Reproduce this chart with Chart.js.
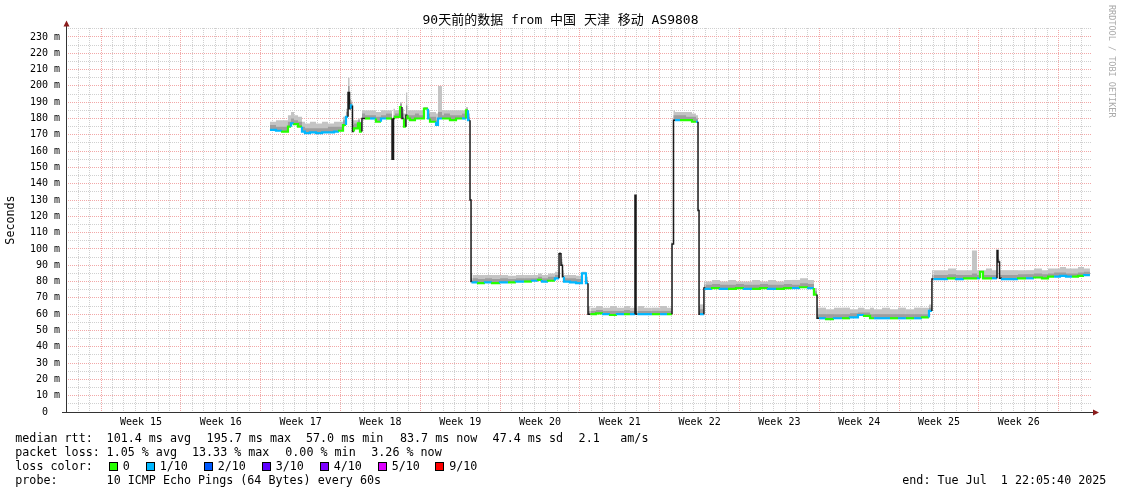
<!DOCTYPE html>
<html><head><meta charset="utf-8">
<script src="https://cdn.jsdelivr.net/npm/chart.js@4/dist/chart.umd.min.js"></script>
<style>html,body{margin:0;padding:0;background:#fff}canvas{display:block}</style>
</head><body>
<canvas id="c" width="1121" height="494"></canvas>
<script>
// ---- texts ----
const titleText = '90天前的数据 from 中国 天津 移动 AS9808';
const yAxisTitle = 'Seconds';
const creditText = 'RRDTOOL / TOBI OETIKER';
const weekLabels = ['Week 15','Week 16','Week 17','Week 18','Week 19','Week 20','Week 21','Week 22','Week 23','Week 24','Week 25','Week 26'];
const yLabelValues = [0,10,20,30,40,50,60,70,80,90,100,110,120,130,140,150,160,170,180,190,200,210,220,230];
const rttStats = ['median rtt:','101.4 ms avg','195.7 ms max','57.0 ms min','83.7 ms now','47.4 ms sd','2.1','am/s'];
const lossStats = ['packet loss:','1.05 % avg','13.33 % max','0.00 % min','3.26 % now'];
const lossLegendLabels = ['0','1/10','2/10','3/10','4/10','5/10','9/10'];
const lossLegendColors = ['#26ff00','#00b8ff','#0059ff','#5e00ff','#7e00ff','#dd00ff','#ff0000'];
const probeText = ['probe:','10 ICMP Echo Pings (64 Bytes) every 60s'];
const endText = 'end: Tue Jul  1 22:05:40 2025';

// ---- time range (90 days ending Tue Jul 1 22:05:40 2025) ----
const startUTC = Date.UTC(2025,3,2,22,5,40);
const endUTC = Date.UTC(2025,6,1,22,5,40);

// ---- series: x = days since start ----
const days = [
 17.89,18.42,18.95,19.47,19.74,20.0,20.35,20.7,20.96,21.4,21.93,22.46,22.98,23.51,23.95,24.3,24.56,24.74,24.87,25.0,
 25.13,25.26,25.61,25.79,25.96,26.23,26.67,27.19,27.63,28.07,28.6,28.73,28.86,29.3,29.47,29.65,29.82,29.96,30.18,30.61,
 30.96,31.4,31.75,31.93,32.46,32.63,32.98,33.16,33.68,34.21,34.74,35.09,35.26,35.44,35.53,35.66,
 36.14,36.75,37.37,38.07,38.77,39.47,40.18,40.88,41.4,41.75,42.28,42.89,43.25,43.42,43.55,43.68,44.21,44.74,45.26,45.61,45.79,46.0,
 46.49,47.11,47.72,48.33,48.95,49.47,49.91,50.0,50.13,50.7,51.4,52.11,52.72,53.16,53.29,53.42,
 53.86,54.39,54.91,55.26,55.44,55.53,55.61,55.96,56.1,
 56.67,57.37,58.07,58.77,59.47,60.18,60.88,61.58,62.28,62.98,63.68,64.39,65.09,65.61,65.88,66.05,
 66.67,67.37,68.07,68.77,69.47,70.0,70.53,70.88,71.58,72.28,72.98,73.68,74.39,75.09,75.7,75.96,76.1,
 76.67,77.37,78.07,78.77,79.47,79.91,80.18,80.44,80.7,81.23,81.67,81.75,81.89,82.1,82.81,83.51,84.21,84.91,85.61,86.14,
 86.67,87.19,87.72,88.25,88.77,89.3,89.82
];
const median = [
 173,173,172.5,172,175,177,176.5,175,172,171,171.5,171,171.5,171.5,172,172.5,176,181,196,186,
 188,172,174,177,172,180,180,180,178,180,180,155,180,181,187,180,175,182,180,179,
 180,180,186,180,178,176,180,180,180,179,180,180,185,179,130,80,
 79.5,79,79.5,79,79.5,79.5,80,80,80.5,81,80,80.5,82,97,90,83,80,79.5,79,85,79,60,
 60,60.5,60,59.5,60,60,60,133,60,60,60,60,60,60,103,179,
 179,179,179,178,178,123.5,60,60,76,
 75.5,76,75.5,75.5,76,75.5,75.5,76,75.5,75.5,76,76,76.5,76,72,57.5,
 57.5,57,57.5,57.5,58,59.5,59,57.5,57.5,57.5,57.5,57.5,57.5,57.5,58,62,81.5,
 81.5,81.5,82,81.5,82,82,82,86,82,82,82,99,92,82,81.5,81.5,82,82,82.5,82,
 83,83,83.5,83,83,83.5,84
];
const smokeMid = [
 175,176,175,175,178,180,179,178,175,174,174,174,174,175,175,175,179,184,200,190,
 190,176,177,179,175,183,182,182,181,182,183,157,182,183,189,183,179,188,182,182,
 183,182,186,183,181,179,184,182,183,182,182,183,186,181,130,82,
 82,81.5,82,81.5,82,81.5,82,82,82,83,82,83,84,98,92,85,82,82,81.5,85,81,62,
 62,62.5,62,62,62,62.5,62,133,62,62,62,62,62,62,103,182,
 182,182,181,181,180,124,62,63,78,
 78,78.5,78,78,78.5,78,78,78.5,78,78,78.5,78,79,78.5,74,60,
 60,60,60,60,60.5,61,61,60,60,60,60,60,60,60,60,64,84,
 84,84,84.5,84,84,85,84,86,84,84,84,99,93,84,84,84,84.5,84.5,85,84.5,
 85,85.5,85.5,85,85,85.5,86
];
const smokeHi = [
 179,178,179,179,182,184,182,181,178,177,178,177,178,177,178,178,181,186,205,192,
 191,179,179,180,178,185,185,185,184,185,185,160,186,185,190,186,183,196,185,185,
 185,185,187,185,184,183,200,185,185,185,185,185,187,183,130,85,
 84,84,84,84,84,83.5,84,84,84,85,84,85,86,98,94,87,84,84,83.5,86,83,65,
 64,65,64,65,64,65,64,133,64,65,64,64,65,64,103,185,
 184,184,184,183,182,125,65,66,80,
 80,81,80,81,80,80,81,80,81,80,81,81,82,81,76,64,
 64,63,64,64,63,64,63,64,63,64,63,64,63,64,64,66,87,
 87,87,88,87,87,99,87,87,87,88,87,99,94,87,87,87,87,87,88,87,
 88,88,89,88,88,89,88
];
const lossTenths = [
 1,1,0,0,1,0,0,1,1,1,1,1,1,1,0,0,1,1,1,1,
 1,0,0,0,0,0,1,0,1,0,0,0,0,0,1,0,1,0,0,0,
 0,0,1,0,1,1,0,0,0,0,1,0,1,0,1,1,
 0,1,0,1,0,1,0,1,0,1,0,1,1,1,1,1,1,1,1,1,1,0,
 0,1,0,1,0,1,1,1,1,1,0,1,0,0,0,1,
 0,0,0,1,0,1,1,1,1,
 0,1,0,0,1,0,0,1,0,0,1,0,1,0,0,1,
 0,1,0,1,1,0,0,1,1,0,1,0,1,0,1,1,1,
 1,0,1,0,0,1,0,0,0,1,1,1,1,1,1,0,1,0,0,0,
 1,1,1,0,0,1,1
];

// ---- derived grid positions from calendar ----
const DAY = 864e5;
const dayLines = [], weekLines = [];
for (let t = Date.UTC(2025,3,3); t < endUTC; t += DAY) {
  const off = (t - startUTC) / DAY;
  dayLines.push(off);
  if (new Date(t).getUTCDay() === 0) weekLines.push(off);
}
const weekCenters = weekLabels.map((_, i) => weekLines[i] + 3.5);
const key = v => v.toFixed(4);
const weekLineSet = new Set(weekLines.map(key));
const centerLabel = new Map(weekCenters.map((v, i) => [key(v), weekLabels[i]]));
const xTickValues = dayLines.concat(weekCenters).sort((a, b) => a - b);

const MONO = '"DejaVu Sans Mono", "Noto Sans CJK SC", monospace';
const pts = arr => days.map((d, i) => ({x: d, y: arr[i]}));

const extras = {
  id: 'extras',
  afterDraw(chart) {
    const ctx = chart.ctx, a = chart.chartArea;
    ctx.save();
    // title
    ctx.fillStyle = '#000';
    ctx.font = '13px ' + MONO;
    ctx.textAlign = 'center'; ctx.textBaseline = 'middle';
    ctx.fillText(titleText, 560.5, 21);
    // axes
    ctx.strokeStyle = '#333'; ctx.lineWidth = 1;
    const ax = Math.round(a.left) + 0.5, ay = Math.round(a.bottom) + 0.5;
    ctx.beginPath();
    ctx.moveTo(ax, ay); ctx.lineTo(ax, 26);
    ctx.moveTo(ax - 4.5, ay); ctx.lineTo(a.right + 1, ay);
    ctx.stroke();
    ctx.fillStyle = '#8b1c1c';
    ctx.beginPath(); ctx.moveTo(ax - 3, 26.5); ctx.lineTo(ax + 3, 26.5); ctx.lineTo(ax, 20.5); ctx.closePath(); ctx.fill();
    ctx.beginPath(); ctx.moveTo(a.right + 1, ay - 3); ctx.lineTo(a.right + 1, ay + 3); ctx.lineTo(a.right + 7, ay); ctx.closePath(); ctx.fill();
    // credit
    ctx.fillStyle = '#aaaaaa';
    ctx.font = '8.5px ' + MONO;
    ctx.translate(1111.5, 5); ctx.rotate(Math.PI / 2);
    ctx.textAlign = 'left'; ctx.textBaseline = 'middle';
    ctx.fillText(creditText, 0, 0);
    ctx.restore();
    // legend block
    ctx.save();
    ctx.fillStyle = '#000';
    ctx.font = '11.7px ' + MONO;
    ctx.textAlign = 'left'; ctx.textBaseline = 'middle';
    const rttX = [15.3, 106.6, 206.6, 306, 400, 492.6, 578.6, 620.3];
    rttStats.forEach((s, i) => ctx.fillText(s, rttX[i], 438.5));
    const lossX = [15.3, 106.6, 192, 285.3, 371.3];
    lossStats.forEach((s, i) => ctx.fillText(s, lossX[i], 452.5));
    ctx.fillText('loss color:', 15.3, 466.5);
    const boxX = [108.5, 145.5, 203.5, 261.5, 319.5, 377.5, 435];
    lossLegendLabels.forEach((s, i) => {
      const bx = Math.round(boxX[i]) + 0.5;
      ctx.fillStyle = lossLegendColors[i];
      ctx.fillRect(bx, 462.5, 8, 8);
      ctx.strokeStyle = '#000'; ctx.lineWidth = 1;
      ctx.strokeRect(bx, 462.5, 8, 8);
      ctx.fillStyle = '#000';
      ctx.fillText(s, boxX[i] + 14.2, 466.5);
    });
    ctx.fillText(probeText[0], 15.3, 480.5);
    ctx.fillText(probeText[1], 106.6, 480.5);
    ctx.fillText(endText, 902.3, 480.5);
    ctx.restore();
  }
};

new Chart(document.getElementById('c'), {
  type: 'line',
  data: {
    datasets: [
      {
        label: 'median', data: pts(median), stepped: 'after', pointRadius: 0,
        borderWidth: 2.2, borderColor: lossLegendColors[0], fill: false,
        segment: {
          borderColor: c => Math.abs(c.p1.parsed.y - c.p0.parsed.y) > 6 ? '#1a1a1a' : lossLegendColors[lossTenths[c.p0DataIndex]],
          borderWidth: c => Math.abs(c.p1.parsed.y - c.p0.parsed.y) > 6 ? 1.5 : 2.2
        }
      },
      {
        label: 'smokeMid', data: pts(smokeMid), stepped: 'after', pointRadius: 0,
        borderWidth: 0, borderColor: 'rgba(0,0,0,0)', backgroundColor: '#9e9e9e', fill: '-1'
      },
      {
        label: 'smokeHi', data: pts(smokeHi), stepped: 'after', pointRadius: 0,
        borderWidth: 0, borderColor: 'rgba(0,0,0,0)', backgroundColor: '#c4c4c4', fill: '-2'
      }
    ]
  },
  options: {
    responsive: false, animation: false, devicePixelRatio: 1,
    layout: {padding: {top: 28, right: 29, bottom: 62, left: 0}},
    plugins: {legend: {display: false}, tooltip: {enabled: false}, title: {display: false}},
    scales: {
      x: {
        type: 'linear', min: 0, max: 90, bounds: 'data',
        afterBuildTicks: s => { s.ticks = xTickValues.map(v => ({value: v})); },
        afterFit: s => { s.height = 20; },
        ticks: {
          autoSkip: false, maxRotation: 0, minRotation: 0, padding: 4, color: '#000',
          font: {family: MONO, size: 10},
          callback: v => centerLabel.get(key(v)) || ''
        },
        grid: {
          drawTicks: false, lineWidth: 1,
          color: c => {
            const v = c.tick ? c.tick.value : 0;
            if (centerLabel.has(key(v))) return 'rgba(0,0,0,0)';
            return weekLineSet.has(key(v)) ? '#f2a8a8' : '#d0d0d0';
          }
        },
        border: {display: false, dash: [1, 1]}
      },
      y: {
        type: 'linear', min: 0, max: 235.5, bounds: 'data',
        afterBuildTicks: s => { const t = []; for (let v = 0; v <= 235; v += 5) t.push({value: v}); s.ticks = t; },
        afterFit: s => { s.width = 66; },
        ticks: {
          autoSkip: false, padding: 6, color: '#000',
          font: {family: MONO, size: 10},
          callback: v => yLabelValues.includes(v) ? (v === 0 ? '0  ' : v + ' m') : ''
        },
        grid: {
          drawTicks: false, lineWidth: 1,
          color: c => (c.tick && c.tick.value % 10 === 0) ? '#f2a8a8' : '#d0d0d0'
        },
        border: {display: false, dash: [1, 1]},
        title: {display: true, text: yAxisTitle, color: '#000', font: {family: MONO, size: 11.7}, padding: {top: 4, bottom: 0}}
      }
    }
  },
  plugins: [extras]
});
</script>
</body></html>
